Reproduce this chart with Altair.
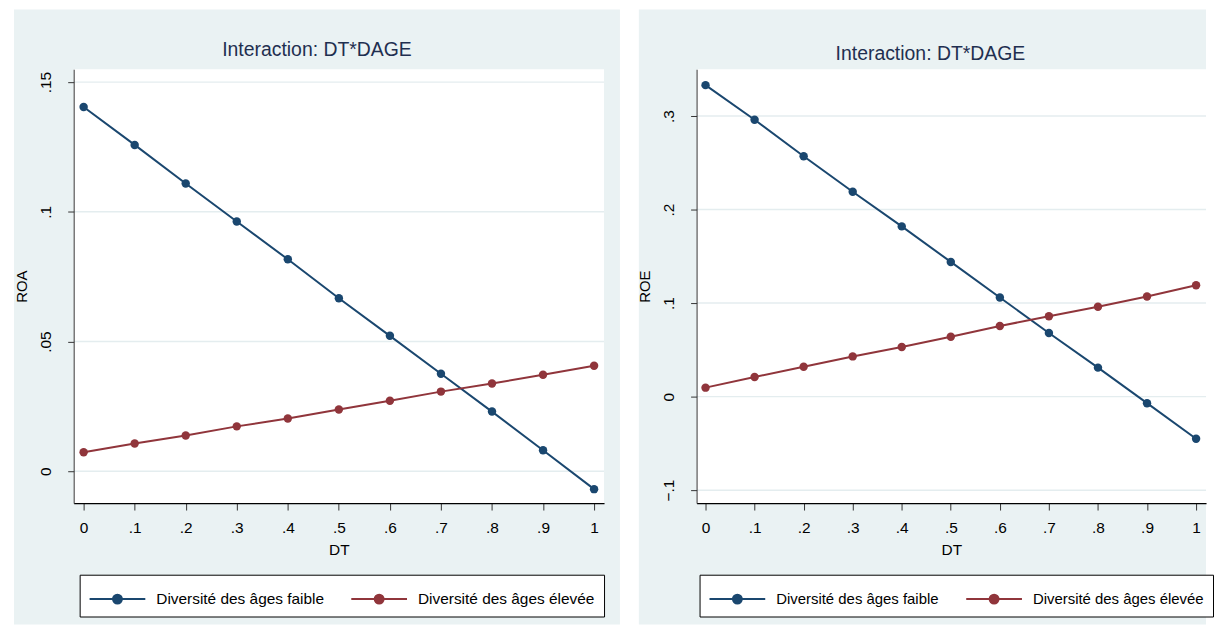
import altair as alt
import pandas as pd

# ---------------- data ----------------
DT = [0, 0.1, 0.2, 0.3, 0.4, 0.5, 0.6, 0.7, 0.8, 0.9, 1]
SERIES = ["Diversité des âges faible", "Diversité des âges élevée"]
COLORS = ["#1A476F", "#90353B"]

ROA_FAIBLE = [0.1404, 0.1258, 0.1109, 0.0963, 0.0817, 0.0667, 0.0522, 0.0376, 0.0230, 0.0081, -0.0069]
ROA_ELEVEE = [0.0073, 0.0107, 0.0138, 0.0173, 0.0203, 0.0238, 0.0272, 0.0307, 0.0338, 0.0372, 0.0407]
ROE_FAIBLE = [0.333, 0.296, 0.257, 0.219, 0.182, 0.144, 0.106, 0.068, 0.031, -0.007, -0.045]
ROE_ELEVEE = [0.0096, 0.021, 0.032, 0.043, 0.053, 0.064, 0.0755, 0.086, 0.096, 0.107, 0.119]

ROA_TICKS = [0, 0.05, 0.1, 0.15]
ROE_TICKS = [-0.1, 0, 0.1, 0.2, 0.3]
X_TICKS = DT
TITLE = "Interaction: DT*DAGE"
X_TITLE = "DT"

# ---------------- style ----------------
FONT = "Liberation Sans Narrow, Arial Narrow, Liberation Sans, Arial, sans-serif"
BG = "#EAF2F3"
GRID = "#E4EDEF"
TITLE_COLOR = "#1F2F50"
LBL = "replace(format(datum.value, '.2~f'), '0.', '.')"
# legend symbol: a line with a dot in the middle
PATH = "M-1,0H2.862M0.621,0A0.31,0.31,0,1,1,1.241,0A0.31,0.31,0,1,1,0.621,0Z"


def panel(ytitle, faible, elevee, yticks, ydom, xdom, W, H, grey,
          title_x, title_y, ytitle_x, legend_x, label_size):
    n = len(DT)
    df = pd.DataFrame({
        "DT": DT + DT,
        "val": faible + elevee,
        "serie": [SERIES[0]] * n + [SERIES[1]] * n,
    })
    one = pd.DataFrame({"k": [0]})
    gx0, gx1, gy0, gy1 = grey

    xscale = alt.Scale(domain=xdom, nice=False, zero=False)
    yscale = alt.Scale(domain=ydom, nice=False, zero=False)

    xaxis = alt.Axis(values=X_TICKS, labelExpr=LBL, title=X_TITLE, grid=False,
                     tickSize=7, tickColor="#333333", domainColor="#000000",
                     domainWidth=1.2, labelPadding=11, labelFont=FONT,
                     labelFontSize=15.5, labelColor="black", labelFlush=False,
                     labelOverlap=False, titleFont=FONT, titleFontSize=15.5,
                     titleFontWeight="normal", titleColor="black",
                     titlePadding=6, zindex=1)
    yaxis = alt.Axis(values=yticks, labelExpr=LBL, title=ytitle, grid=False,
                     tickSize=6, tickColor="#333333", domainColor="#333333",
                     labelPadding=17, labelAngle=270, labelAlign="center",
                     labelBaseline="alphabetic", labelFont=FONT,
                     labelFontSize=15.5, labelColor="black", labelFlush=False,
                     labelOverlap=False, titleFont=FONT, titleFontSize=15,
                     titleFontWeight="normal", titleColor="black",
                     titleAngle=270, titleX=ytitle_x, titleY=H / 2,
                     titleAlign="center", titleBaseline="middle", zindex=1)

    legend = alt.Legend(orient="none", legendX=legend_x, legendY=508,
                        direction="horizontal", title=None,
                        symbolType=PATH, symbolSize=841, symbolStrokeWidth=2,
                        symbolOpacity=1, labelFont=FONT,
                        labelFontSize=label_size, labelColor="black",
                        labelLimit=500, labelOffset=37, columnPadding=23,
                        padding=9, fillColor="white", strokeColor="black",
                        zindex=1)
    color = alt.Color("serie:N", scale=alt.Scale(domain=SERIES, range=COLORS),
                      legend=legend)

    bg = alt.Chart(one).mark_rect(fill=BG).encode(
        x=alt.value(gx0), x2=alt.value(gx1), y=alt.value(gy0), y2=alt.value(gy1))
    plot_bg = alt.Chart(one).mark_rect(fill="white").encode(
        x=alt.value(0), x2=alt.value(W), y=alt.value(0), y2=alt.value(H))
    grid = alt.Chart(pd.DataFrame({"val": yticks})).mark_rule(
        color=GRID, strokeWidth=1.5).encode(
        y=alt.Y("val:Q", scale=yscale, axis=yaxis),
        x=alt.value(0), x2=alt.value(W))
    line = alt.Chart(df).mark_line(strokeWidth=2).encode(
        x=alt.X("DT:Q", scale=xscale, axis=xaxis),
        y=alt.Y("val:Q", scale=yscale, axis=yaxis),
        color=color)
    pts = alt.Chart(df).mark_circle(size=72, opacity=1).encode(
        x=alt.X("DT:Q", scale=xscale, axis=xaxis),
        y=alt.Y("val:Q", scale=yscale, axis=yaxis),
        color=color)
    ttl = alt.Chart(one).mark_text(
        text=TITLE, font=FONT, fontSize=19.5, color=TITLE_COLOR,
        align="center", baseline="alphabetic").encode(
        x=alt.value(title_x), y=alt.value(title_y))

    return alt.layer(bg, plot_bg, grid, line, pts, ttl).properties(width=W, height=H)


left = panel("ROA", ROA_FAIBLE, ROA_ELEVEE, ROA_TICKS,
             [-0.01227, 0.15497], [-0.0195, 1.0195], 533, 436,
             (-60, 549, -60, 558), 244.5, -13, -52, 6, 15.5)
right = panel("ROE", ROE_FAIBLE, ROE_ELEVEE, ROE_TICKS,
              [-0.1138, 0.350], [-0.01826, 1.0203], 512, 436,
              (-58, 512, -60, 558), 235, -9, -52, 3, 15)

chart = alt.hconcat(left, right, spacing=93, bounds="flush").resolve_scale(
    x="independent", y="independent", color="independent"
).resolve_legend(color="independent").configure(
    background="white", padding={"left": 6, "top": 0, "right": 0, "bottom": 0}
).configure_view(strokeWidth=0)

chart.save("out.html", embed_options={"renderer": "svg", "actions": False})
